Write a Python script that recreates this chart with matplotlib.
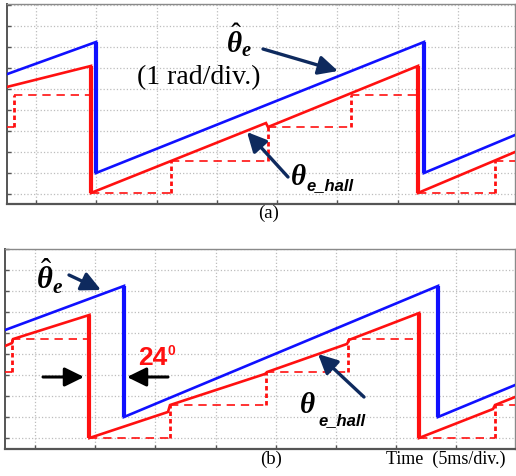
import matplotlib

matplotlib.use("Agg")
import matplotlib.pyplot as plt

W, H = 516, 477

# time in divisions (5 ms/div), angle in rad (1 rad/div)
# panel (a)
a_est_t = [-0.48, 0.995, 0.995, 6.434, 6.434, 7.944]
a_est_ang = [5.71, 7.24, 1.0, 7.24, 1.0, 2.81]
a_hall_t = [-0.48, 0.912, 0.912, 3.814, 3.847, 6.335, 6.335, 7.944]
a_hall_ang = [5.10, 6.10, 0.05, 3.38, 3.19, 6.10, 0.05, 2.0]
a_edge_t = [-0.365, 0.912, 2.239, 3.847, 5.224, 6.335, 7.612]
a_level = [3.19, 4.71, 0.05, 1.57, 3.19, 4.71, 0.05, 1.57]

# panel (b)
b_est_t = [-0.498, 1.478, 1.478, 6.694, 6.694, 7.973]
b_est_ang = [5.14, 7.24, 1.0, 7.24, 1.0, 2.52]
b_hall_t = [-0.498, -0.382, -0.365, 0.905, 0.905, 2.209, 2.243, 3.821, 3.854,
            5.183, 5.216, 6.379, 6.379, 7.608, 7.641, 7.973]
b_hall_ang = [4.38, 4.52, 4.71, 5.86, 0.0, 1.24, 1.57, 3.05, 3.14,
              4.48, 4.67, 5.95, 0.0, 1.38, 1.57, 1.95]
b_edge_t = [-0.374, 0.905, 2.243, 3.837, 5.199, 6.379, 7.641]
b_level = [3.14, 4.71, 0.0, 1.57, 3.14, 4.71, 0.0, 1.57]

BLUE = "#1010ff"
RED = "#ff1010"
NAVY = "#0e2a5e"

plt.rcParams["mathtext.fontset"] = "custom"
plt.rcParams["mathtext.rm"] = "Liberation Serif"
plt.rcParams["mathtext.it"] = "Liberation Serif:italic:bold"
plt.rcParams["mathtext.bf"] = "Liberation Serif:bold"


def draw_trace(ax, t, y, color):
    ax.plot(t, y, color=color, lw=1.9, solid_joinstyle="miter", zorder=4)
    # the resets look heavier on the scope capture
    for i in range(len(t) - 1):
        if abs(t[i + 1] - t[i]) < 0.02 and abs(y[i + 1] - y[i]) > 3:
            ax.plot(t[i:i + 2], y[i:i + 2], color=color, lw=3.0,
                    solid_capstyle="butt", zorder=4)


def draw_hall(ax, edges, levels):
    x0, x1 = ax.get_xlim()
    bounds = [x0] + edges + [x1]
    for i, lvl in enumerate(levels):
        ax.plot([bounds[i], bounds[i + 1]], [lvl, lvl], color=RED, lw=1.2,
                ls=(0, (5, 3.5)), zorder=3)
    for i, te in enumerate(edges):
        if levels[i + 1] > levels[i]:
            ax.plot([te, te], [levels[i], levels[i + 1]], color=RED, lw=2.0,
                    ls=(0, (1.6, 1.1)), zorder=3)


def setup(ax, xlim, ylim):
    ax.set_xlim(*xlim)
    ax.set_ylim(*ylim)
    ax.set_xticks(range(0, 8))
    ax.set_yticks(range(0, 10))
    ax.set_xticklabels([])
    ax.set_yticklabels([])
    ax.tick_params(direction="in", length=3, width=1, color="#555555")
    ax.grid(True, color="#bdbdbd", ls=":", lw=0.9)
    for s in ax.spines.values():
        s.set_color("#8a8a8a")
        s.set_linewidth(1.0)
    ax.spines["bottom"].set_color("#555555")
    ax.spines["bottom"].set_linewidth(1.6)
    ax.spines["left"].set_color("#555555")
    ax.spines["left"].set_linewidth(1.4)


def arrow(fig, tail, head, color, lw=2.4):
    fig.add_artist(matplotlib.patches.FancyArrowPatch(
        (tail[0], H - tail[1]), (head[0], H - head[1]),
        transform=None, arrowstyle="-|>,head_length=0.65,head_width=0.32",
        mutation_scale=18, lw=lw, color=color, shrinkA=0, shrinkB=0))


def ftext(fig, x, y, s, **kw):
    fig.text(x / W, 1 - y / H, s, **kw)


fig = plt.figure(figsize=(W / 100, H / 100), dpi=100)

ax_a = fig.add_axes([7 / W, 1 - 205 / H, 508 / W, 200 / H])
setup(ax_a, (-0.481, 7.944), (-0.476, 9.05))
draw_hall(ax_a, a_edge_t, a_level)
draw_trace(ax_a, a_hall_t, a_hall_ang, RED)
draw_trace(ax_a, a_est_t, a_est_ang, BLUE)

ax_b = fig.add_axes([5 / W, 1 - 450 / H, 510 / W, 200 / H])
setup(ax_b, (-0.498, 7.973), (-0.524, 9.0))
draw_hall(ax_b, b_edge_t, b_level)
draw_trace(ax_b, b_hall_t, b_hall_ang, RED)
draw_trace(ax_b, b_est_t, b_est_ang, BLUE)

serif = "Liberation Serif"
sans = "Liberation Sans"

# panel (a) annotations
ftext(fig, 226, 53, r"$\hat{\theta}_e$", fontsize=21, ha="left", va="baseline")
ftext(fig, 199, 78, "(1 rad/div.)", fontsize=20, family=serif, ha="center", va="center")
arrow(fig, (263, 50), (338, 72), NAVY)
ftext(fig, 290, 185, r"$\theta$", fontsize=21, ha="left", va="baseline")
ftext(fig, 306, 190, "e_hall", fontsize=12, family=sans, weight="bold",
      style="italic", ha="left", va="baseline")
arrow(fig, (288, 178), (247, 133), NAVY)
ftext(fig, 269, 213, "(a)", fontsize=13.5, family=serif, ha="center", va="center")

# panel (b) annotations
ftext(fig, 36, 290, r"$\hat{\theta}_e$", fontsize=22, ha="left", va="baseline")
arrow(fig, (69, 276), (101, 291), NAVY)
ftext(fig, 138, 365, "24", fontsize=19, family=sans, weight="bold", color=RED,
      ha="left", va="baseline")
ftext(fig, 168, 355, "0", fontsize=10, family=sans, weight="bold", color=RED,
      ha="left", va="baseline")
arrow(fig, (43, 378), (84, 378), "black", lw=2.2)
arrow(fig, (168, 378), (127, 378), "black", lw=2.2)
ftext(fig, 299, 413, r"$\theta$", fontsize=21, ha="left", va="baseline")
arrow(fig, (364, 398), (318, 355), NAVY)
ftext(fig, 318, 425, "e_hall", fontsize=12, family=sans, weight="bold",
      style="italic", ha="left", va="baseline")
ftext(fig, 271, 459, "(b)", fontsize=13.5, family=serif, ha="center", va="center")
ftext(fig, 386, 459, "Time  (5ms/div.)", fontsize=13, family=serif, ha="left", va="center")

fig.savefig("out.png", dpi=100)
